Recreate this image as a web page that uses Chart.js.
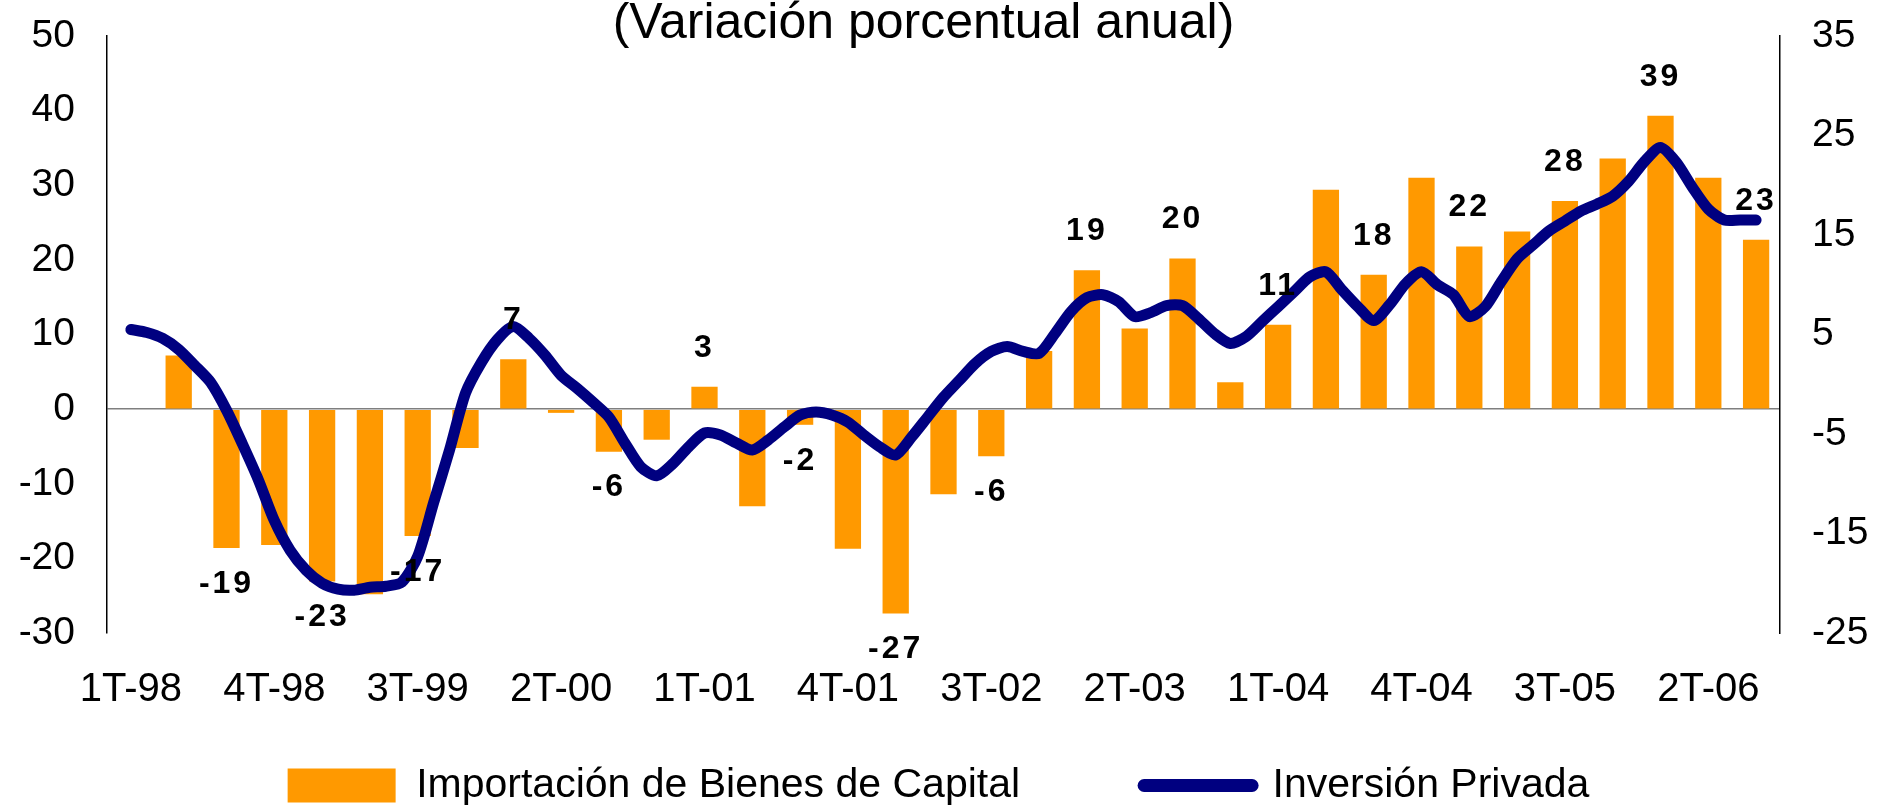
<!DOCTYPE html>
<html>
<head>
<meta charset="utf-8">
<script src="https://cdn.jsdelivr.net/npm/chart.js@4.4.1/dist/chart.umd.min.js"></script>
<style>
  html, body { margin: 0; padding: 0; background: #fff; }
  #wrap { width: 1877px; height: 806px; }
</style>
</head>
<body>
<div id="wrap"><canvas id="grafico"></canvas></div>
<script>
// trimestres (eje de categorias)
const trimestres = [
  '1T-98', '2T-98', '3T-98', '4T-98',
  '1T-99', '2T-99', '3T-99', '4T-99',
  '1T-00', '2T-00', '3T-00', '4T-00',
  '1T-01', '2T-01', '3T-01', '4T-01',
  '1T-02', '2T-02', '3T-02', '4T-02',
  '1T-03', '2T-03', '3T-03', '4T-03',
  '1T-04', '2T-04', '3T-04', '4T-04',
  '1T-05', '2T-05', '3T-05', '4T-05',
  '1T-06', '2T-06', '3T-06'
];

// importacion de bienes de capital, var. % anual (eje izquierdo)
const importacion = [
  null, 7.2, -18.6, -18.2, -23.1, -24.8, -17.0, -5.2,
  6.7, -0.5, -5.7, -4.1, 3.0, -13.0, -2.1, -18.7,
  -27.4, -11.4, -6.3, 7.8, 18.6, 10.8, 20.2, 3.6,
  11.3, 29.4, 18.0, 31.0, 21.8, 23.8, 27.9, 33.6,
  39.3, 31.0, 22.7
];

// trimestres con etiqueta de valor
const trimestresEtiquetados = [2, 4, 6, 8, 10, 12, 14, 16, 18, 20, 22, 24, 26, 28, 30, 32, 34];

// inversion privada, serie mensual (eje derecho), ene-98 ... jul-06
const inversionPrivada = [
  5.5, 5.2, 4.6, 3.5, 1.9, 0.2, -2.6, -6.0, -9.6, -13.7,
  -16.7, -18.7, -20.0, -20.6, -20.7, -20.4, -20.3, -19.9, -17.3, -11.9,
  -6.6, -0.9, 2.2, 4.5, 5.8, 4.6, 2.9, 0.9, -0.4, -1.8,
  -3.3, -5.9, -8.3, -9.2, -8.0, -6.3, -4.9, -5.1, -5.9, -6.6,
  -5.6, -4.3, -3.1, -2.8, -3.1, -3.8, -5.1, -6.3, -7.1, -5.3,
  -3.3, -1.3, 0.4, 2.1, 3.3, 3.8, 3.3, 3.1, 5.1, 7.3,
  8.7, 9.0, 8.3, 6.8, 7.2, 7.9, 7.9, 6.6, 5.1, 4.1,
  4.8, 6.3, 7.8, 9.3, 10.8, 11.3, 9.5, 7.8, 6.4, 8.0,
  10.1, 11.3, 10.0, 9.0, 6.8, 7.8, 10.3, 12.6, 14.0, 15.4,
  16.4, 17.4, 18.1, 18.9, 20.4, 22.4, 23.8, 22.3, 19.8, 17.6,
  16.5, 16.5, 16.5
];

const titulo = '(Variación porcentual anual)';
const naranja = '#FF9900';
const azul = '#000080';
const fuente = "'Liberation Sans', Arial, sans-serif";

Chart.defaults.font.family = fuente;
Chart.defaults.color = '#000';

// etiquetas de valor sobre/bajo las barras
const etiquetasBarras = {
  id: 'etiquetasBarras',
  afterDatasetsDraw(chart) {
    const meta = chart.getDatasetMeta(0);
    const ctx = chart.ctx;
    ctx.save();
    ctx.font = 'bold 32px ' + fuente;
    ctx.letterSpacing = '3px';
    ctx.fillStyle = '#000';
    ctx.textAlign = 'center';
    ctx.textBaseline = 'middle';
    trimestresEtiquetados.forEach(i => {
      const v = importacion[i];
      const barra = meta.data[i];
      const y = v >= 0 ? barra.y - 39 : barra.y + 36;
      ctx.fillText(String(Math.round(v)), barra.x, y);
    });
    ctx.restore();
  }
};

// titulo arriba, pegado al borde
const tituloArriba = {
  id: 'tituloArriba',
  afterDraw(chart) {
    const ctx = chart.ctx;
    const area = chart.chartArea;
    ctx.save();
    ctx.font = '50px ' + fuente;
    ctx.fillStyle = '#000';
    ctx.textAlign = 'center';
    ctx.textBaseline = 'alphabetic';
    ctx.fillText(titulo, (area.left + area.right) / 2 - 20, 38);
    ctx.restore();
  }
};

// ejes verticales: ancho fijo y sin margen extra arriba/abajo
const ejeVertical = ancho => s => {
  s.width = ancho;
  s.paddingTop = 0;
  s.paddingBottom = 0;
};

const ctx = document.getElementById('grafico');
new Chart(ctx, {
  type: 'bar',
  data: {
    labels: trimestres,
    datasets: [
      {
        type: 'bar',
        label: 'Importación de Bienes de Capital',
        data: importacion,
        backgroundColor: naranja,
        xAxisID: 'x',
        yAxisID: 'y',
        grouped: false,
        categoryPercentage: 1,
        barPercentage: 0.55,
        order: 1
      },
      {
        type: 'line',
        label: 'Inversión Privada',
        data: inversionPrivada.map((v, i) => ({ x: i, y: v })),
        borderColor: azul,
        borderWidth: 11,
        borderCapStyle: 'round',
        borderJoinStyle: 'round',
        pointRadius: 0,
        tension: 0.25,
        fill: false,
        clip: false,
        xAxisID: 'xm',
        yAxisID: 'y2',
        order: 0
      }
    ]
  },
  options: {
    responsive: true,
    maintainAspectRatio: false,
    animation: false,
    layout: { autoPadding: false, padding: { top: 36, left: 0, right: 0, bottom: -10 } },
    scales: {
      x: {
        type: 'category',
        position: 'bottom',
        offset: true,
        grid: { display: false, drawTicks: false },
        border: { display: false },
        ticks: {
          autoSkip: false,
          maxRotation: 0,
          padding: 33,
          font: { size: 40, lineHeight: 1.2 },
          callback: (val, idx) => idx % 3 === 0 ? trimestres[idx] : ''
        },
        afterFit: s => {
          s.height = 8;
          s._computeLabelArea = () => undefined; // no recortar las etiquetas
        }
      },
      xm: {
        type: 'linear',
        position: 'bottom',
        offset: false,
        min: -1.5,
        max: 103.5,
        ticks: { display: false },
        grid: { display: false, drawTicks: false },
        border: { display: false }
      },
      y: {
        position: 'left',
        min: -30,
        max: 50,
        ticks: { stepSize: 10, padding: 32, font: { size: 39 } },
        grid: {
          drawTicks: false,
          lineWidth: 1.5,
          color: c => c.tick.value === 0 ? '#7f7f7f' : 'rgba(0,0,0,0)'
        },
        border: { display: true, color: '#000', width: 1.5 },
        afterFit: ejeVertical(107)
      },
      y2: {
        position: 'right',
        min: -25,
        max: 35,
        ticks: { stepSize: 10, padding: 32, font: { size: 39 } },
        grid: { display: false, drawTicks: false },
        border: { display: true, color: '#000', width: 1.5 },
        afterFit: ejeVertical(97)
      }
    },
    plugins: {
      tooltip: { enabled: false },
      title: { display: false },
      legend: {
        position: 'bottom',
        labels: {
          usePointStyle: true,
          pointStyleWidth: 108,
          boxHeight: 34,
          padding: 124,
          color: '#000',
          font: { size: 41 },
          generateLabels: () => [
            { text: 'Importación de Bienes de Capital', fillStyle: naranja, strokeStyle: naranja,
              lineWidth: 0, pointStyle: 'rect', datasetIndex: 0, hidden: false },
            { text: 'Inversión Privada', fillStyle: azul, strokeStyle: azul,
              lineWidth: 13, lineCap: 'round', pointStyle: 'line', datasetIndex: 1, hidden: false }
          ]
        }
      }
    }
  },
  plugins: [etiquetasBarras, tituloArriba]
});
</script>
</body>
</html>
